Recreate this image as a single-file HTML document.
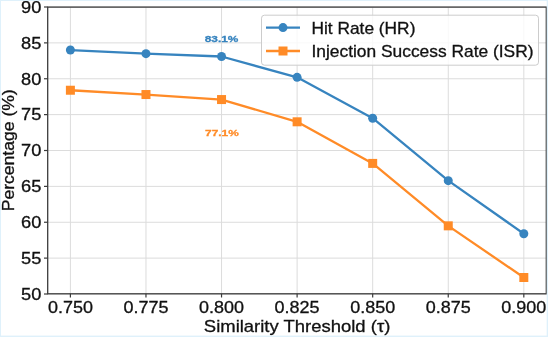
<!DOCTYPE html><html><head><meta charset="utf-8"><style>html,body{margin:0;padding:0;background:#fff;}svg{display:block;will-change:transform;}text{font-family:"Liberation Sans",sans-serif;}</style></head><body>
<svg width="548" height="337" viewBox="0 0 548 337">
<rect x="0" y="0" width="548" height="337" fill="#ffffff"/>
<line x1="70.40" y1="7.1" x2="70.40" y2="293.8" stroke="#dcdcdc" stroke-width="1"/>
<line x1="145.97" y1="7.1" x2="145.97" y2="293.8" stroke="#dcdcdc" stroke-width="1"/>
<line x1="221.54" y1="7.1" x2="221.54" y2="293.8" stroke="#dcdcdc" stroke-width="1"/>
<line x1="297.11" y1="7.1" x2="297.11" y2="293.8" stroke="#dcdcdc" stroke-width="1"/>
<line x1="372.68" y1="7.1" x2="372.68" y2="293.8" stroke="#dcdcdc" stroke-width="1"/>
<line x1="448.25" y1="7.1" x2="448.25" y2="293.8" stroke="#dcdcdc" stroke-width="1"/>
<line x1="523.82" y1="7.1" x2="523.82" y2="293.8" stroke="#dcdcdc" stroke-width="1"/>
<line x1="47.7" y1="294.00" x2="546.3" y2="294.00" stroke="#dcdcdc" stroke-width="1"/>
<line x1="47.7" y1="258.12" x2="546.3" y2="258.12" stroke="#dcdcdc" stroke-width="1"/>
<line x1="47.7" y1="222.25" x2="546.3" y2="222.25" stroke="#dcdcdc" stroke-width="1"/>
<line x1="47.7" y1="186.38" x2="546.3" y2="186.38" stroke="#dcdcdc" stroke-width="1"/>
<line x1="47.7" y1="150.50" x2="546.3" y2="150.50" stroke="#dcdcdc" stroke-width="1"/>
<line x1="47.7" y1="114.62" x2="546.3" y2="114.62" stroke="#dcdcdc" stroke-width="1"/>
<line x1="47.7" y1="78.75" x2="546.3" y2="78.75" stroke="#dcdcdc" stroke-width="1"/>
<line x1="47.7" y1="42.88" x2="546.3" y2="42.88" stroke="#dcdcdc" stroke-width="1"/>
<line x1="47.7" y1="7.00" x2="546.3" y2="7.00" stroke="#dcdcdc" stroke-width="1"/>
<polyline points="70.40,50.05 145.97,53.64 221.54,56.51 297.11,77.31 372.68,118.21 448.25,180.64 523.82,233.73" fill="none" stroke="#3784bf" stroke-width="2.3" stroke-linejoin="round"/>
<circle cx="70.40" cy="50.05" r="4.5" fill="#3784bf"/>
<circle cx="145.97" cy="53.64" r="4.5" fill="#3784bf"/>
<circle cx="221.54" cy="56.51" r="4.5" fill="#3784bf"/>
<circle cx="297.11" cy="77.31" r="4.5" fill="#3784bf"/>
<circle cx="372.68" cy="118.21" r="4.5" fill="#3784bf"/>
<circle cx="448.25" cy="180.64" r="4.5" fill="#3784bf"/>
<circle cx="523.82" cy="233.73" r="4.5" fill="#3784bf"/>
<polyline points="70.40,90.23 145.97,94.54 221.54,99.56 297.11,121.80 372.68,163.41 448.25,225.84 523.82,277.50" fill="none" stroke="#ff8b27" stroke-width="2.3" stroke-linejoin="round"/>
<rect x="65.90" y="85.73" width="9" height="9" fill="#ff8b27"/>
<rect x="141.47" y="90.04" width="9" height="9" fill="#ff8b27"/>
<rect x="217.04" y="95.06" width="9" height="9" fill="#ff8b27"/>
<rect x="292.61" y="117.30" width="9" height="9" fill="#ff8b27"/>
<rect x="368.18" y="158.91" width="9" height="9" fill="#ff8b27"/>
<rect x="443.75" y="221.34" width="9" height="9" fill="#ff8b27"/>
<rect x="519.32" y="273.00" width="9" height="9" fill="#ff8b27"/>
<rect x="47.7" y="7.1" width="498.60" height="286.70" fill="none" stroke="#3c3c3c" stroke-width="1.3"/>
<line x1="70.40" y1="293.8" x2="70.40" y2="297.5" stroke="#3a3a3a" stroke-width="1.2"/>
<line x1="145.97" y1="293.8" x2="145.97" y2="297.5" stroke="#3a3a3a" stroke-width="1.2"/>
<line x1="221.54" y1="293.8" x2="221.54" y2="297.5" stroke="#3a3a3a" stroke-width="1.2"/>
<line x1="297.11" y1="293.8" x2="297.11" y2="297.5" stroke="#3a3a3a" stroke-width="1.2"/>
<line x1="372.68" y1="293.8" x2="372.68" y2="297.5" stroke="#3a3a3a" stroke-width="1.2"/>
<line x1="448.25" y1="293.8" x2="448.25" y2="297.5" stroke="#3a3a3a" stroke-width="1.2"/>
<line x1="523.82" y1="293.8" x2="523.82" y2="297.5" stroke="#3a3a3a" stroke-width="1.2"/>
<line x1="44.0" y1="294.00" x2="47.7" y2="294.00" stroke="#3a3a3a" stroke-width="1.2"/>
<line x1="44.0" y1="258.12" x2="47.7" y2="258.12" stroke="#3a3a3a" stroke-width="1.2"/>
<line x1="44.0" y1="222.25" x2="47.7" y2="222.25" stroke="#3a3a3a" stroke-width="1.2"/>
<line x1="44.0" y1="186.38" x2="47.7" y2="186.38" stroke="#3a3a3a" stroke-width="1.2"/>
<line x1="44.0" y1="150.50" x2="47.7" y2="150.50" stroke="#3a3a3a" stroke-width="1.2"/>
<line x1="44.0" y1="114.62" x2="47.7" y2="114.62" stroke="#3a3a3a" stroke-width="1.2"/>
<line x1="44.0" y1="78.75" x2="47.7" y2="78.75" stroke="#3a3a3a" stroke-width="1.2"/>
<line x1="44.0" y1="42.88" x2="47.7" y2="42.88" stroke="#3a3a3a" stroke-width="1.2"/>
<line x1="44.0" y1="7.00" x2="47.7" y2="7.00" stroke="#3a3a3a" stroke-width="1.2"/>
<text x="70.40" y="312.9" font-size="16.5" text-anchor="middle" textLength="45" lengthAdjust="spacingAndGlyphs" fill="#111" stroke="#111" stroke-width="0.3">0.750</text>
<text x="145.97" y="312.9" font-size="16.5" text-anchor="middle" textLength="45" lengthAdjust="spacingAndGlyphs" fill="#111" stroke="#111" stroke-width="0.3">0.775</text>
<text x="221.54" y="312.9" font-size="16.5" text-anchor="middle" textLength="45" lengthAdjust="spacingAndGlyphs" fill="#111" stroke="#111" stroke-width="0.3">0.800</text>
<text x="297.11" y="312.9" font-size="16.5" text-anchor="middle" textLength="45" lengthAdjust="spacingAndGlyphs" fill="#111" stroke="#111" stroke-width="0.3">0.825</text>
<text x="372.68" y="312.9" font-size="16.5" text-anchor="middle" textLength="45" lengthAdjust="spacingAndGlyphs" fill="#111" stroke="#111" stroke-width="0.3">0.850</text>
<text x="448.25" y="312.9" font-size="16.5" text-anchor="middle" textLength="45" lengthAdjust="spacingAndGlyphs" fill="#111" stroke="#111" stroke-width="0.3">0.875</text>
<text x="523.82" y="312.9" font-size="16.5" text-anchor="middle" textLength="45" lengthAdjust="spacingAndGlyphs" fill="#111" stroke="#111" stroke-width="0.3">0.900</text>
<text x="41.4" y="299.85" font-size="16.5" text-anchor="end" textLength="20.3" lengthAdjust="spacingAndGlyphs" fill="#111" stroke="#111" stroke-width="0.3">50</text>
<text x="41.4" y="263.98" font-size="16.5" text-anchor="end" textLength="20.3" lengthAdjust="spacingAndGlyphs" fill="#111" stroke="#111" stroke-width="0.3">55</text>
<text x="41.4" y="228.10" font-size="16.5" text-anchor="end" textLength="20.3" lengthAdjust="spacingAndGlyphs" fill="#111" stroke="#111" stroke-width="0.3">60</text>
<text x="41.4" y="192.22" font-size="16.5" text-anchor="end" textLength="20.3" lengthAdjust="spacingAndGlyphs" fill="#111" stroke="#111" stroke-width="0.3">65</text>
<text x="41.4" y="156.35" font-size="16.5" text-anchor="end" textLength="20.3" lengthAdjust="spacingAndGlyphs" fill="#111" stroke="#111" stroke-width="0.3">70</text>
<text x="41.4" y="120.47" font-size="16.5" text-anchor="end" textLength="20.3" lengthAdjust="spacingAndGlyphs" fill="#111" stroke="#111" stroke-width="0.3">75</text>
<text x="41.4" y="84.60" font-size="16.5" text-anchor="end" textLength="20.3" lengthAdjust="spacingAndGlyphs" fill="#111" stroke="#111" stroke-width="0.3">80</text>
<text x="41.4" y="48.73" font-size="16.5" text-anchor="end" textLength="20.3" lengthAdjust="spacingAndGlyphs" fill="#111" stroke="#111" stroke-width="0.3">85</text>
<text x="41.4" y="12.85" font-size="16.5" text-anchor="end" textLength="20.3" lengthAdjust="spacingAndGlyphs" fill="#111" stroke="#111" stroke-width="0.3">90</text>
<text x="297.1" y="332.4" font-size="16.6" text-anchor="middle" textLength="186.5" lengthAdjust="spacingAndGlyphs" fill="#111" stroke="#111" stroke-width="0.3">Similarity Threshold (τ)</text>
<text transform="translate(14,150.3) rotate(-90)" x="0" y="0" font-size="16.6" text-anchor="middle" textLength="122" lengthAdjust="spacingAndGlyphs" fill="#111" stroke="#111" stroke-width="0.3">Percentage (%)</text>
<text x="221.6" y="41.7" font-size="9.95" font-weight="bold" stroke-width="0.3" text-anchor="middle" textLength="33.7" lengthAdjust="spacingAndGlyphs" fill="#3784bf" stroke="#3784bf">83.1%</text>
<text x="221.9" y="135.6" font-size="9.95" font-weight="bold" stroke-width="0.3" text-anchor="middle" textLength="33.7" lengthAdjust="spacingAndGlyphs" fill="#ff8b27" stroke="#ff8b27">77.1%</text>
<rect x="261.5" y="15.2" width="277" height="50" rx="3" ry="3" fill="#ffffff" fill-opacity="0.8" stroke="#cccccc" stroke-width="1"/>
<line x1="266" y1="27.6" x2="300" y2="27.6" stroke="#3784bf" stroke-width="2.3"/>
<circle cx="283" cy="27.6" r="4.5" fill="#3784bf"/>
<line x1="266" y1="51" x2="300" y2="51" stroke="#ff8b27" stroke-width="2.3"/>
<rect x="278.5" y="46.5" width="9" height="9" fill="#ff8b27"/>
<text x="311.5" y="33.6" font-size="16.2" textLength="103.9" lengthAdjust="spacingAndGlyphs" fill="#111" stroke="#111" stroke-width="0.3">Hit Rate (HR)</text>
<text x="311.5" y="56.6" font-size="16.2" textLength="222" lengthAdjust="spacingAndGlyphs" fill="#111" stroke="#111" stroke-width="0.3">Injection Success Rate (ISR)</text>
<rect x="0" y="0" width="548" height="1" fill="#dff1fb"/>
<rect x="0" y="0" width="1" height="337" fill="#dff1fb"/>
<rect x="546.7" y="0" width="1.3" height="337" fill="#dff1fb"/>
<rect x="0" y="335.6" width="548" height="1.4" fill="#dff1fb"/>
</svg></body></html>
